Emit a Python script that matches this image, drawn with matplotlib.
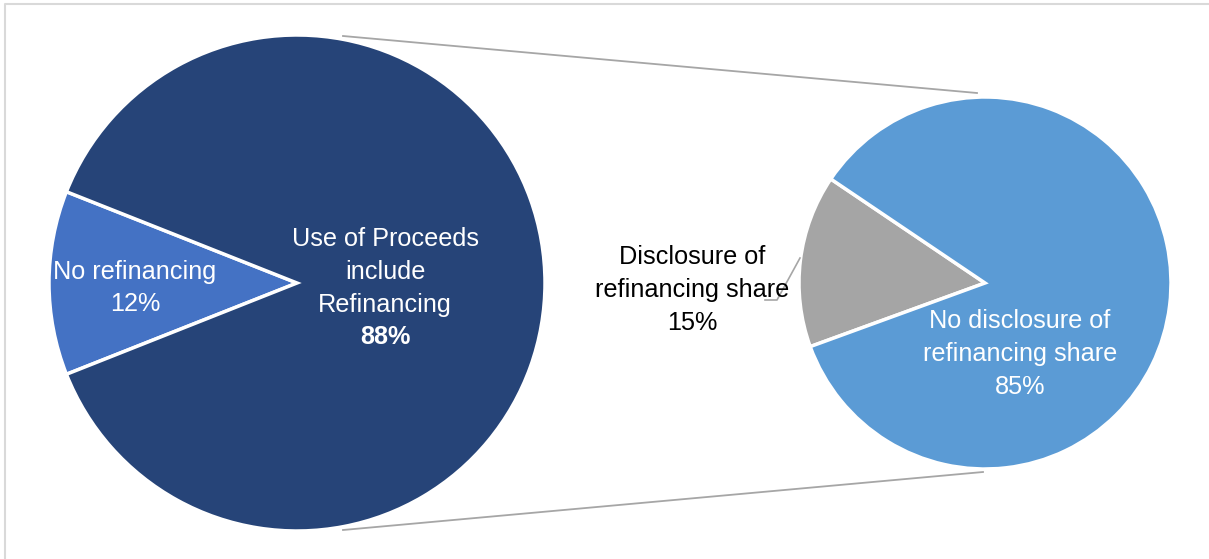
import matplotlib
matplotlib.use("Agg")
import matplotlib.pyplot as plt

# Data
main_labels = ["No refinancing", "Use of Proceeds\ninclude\nRefinancing"]
main_values = [12, 88]
sub_labels = ["Disclosure of\nrefinancing share", "No disclosure of\nrefinancing share"]
sub_values = [15, 85]

main_colors = ["#4472C4", "#264478"]
sub_colors = ["#A5A5A5", "#5B9BD5"]

W, H = 1209, 559
fig = plt.figure(figsize=(W / 100, H / 100), dpi=100)
ax = fig.add_axes([0, 0, 1, 1])


def py(y):
    return H - y


# Frame
ax.plot([5, 5, W + 5], [py(H + 5), py(4), py(4)], color="#d9d9d9", lw=1.5,
        solid_capstyle="butt")

# Connector lines between the two pies
ax.plot([343, 977], [py(36), py(93)], color="#a6a6a6", lw=1.3, zorder=1)
ax.plot([343, 983], [py(530), py(472)], color="#a6a6a6", lw=1.3, zorder=1)

main_center = (297, py(283))
main_r = 248
sub_center = (985, py(283))
sub_r = 186

half = main_values[0] / sum(main_values) * 360 / 2
ax.pie(main_values, colors=main_colors, center=main_center, radius=main_r,
       startangle=180 - half, counterclock=True,
       wedgeprops=dict(edgecolor="white", linewidth=2.5))
ax.pie(sub_values, colors=sub_colors, center=sub_center, radius=sub_r,
       startangle=146, counterclock=True,
       wedgeprops=dict(edgecolor="white", linewidth=2.5))
ax.set_xlim(0, W)
ax.set_ylim(0, H)
ax.set_aspect("equal")
ax.axis("off")

fam = ["Liberation Sans", "DejaVu Sans"]
fs = 18.2
ls = 1.45

ax.text(135, py(288), f"{main_labels[0]}\n{main_values[0]}%", ha="center", va="center",
        color="white", fontsize=fs, family=fam, linespacing=ls)

ax.text(385, py(272), main_labels[1], ha="center", va="center",
        color="white", fontsize=fs, family=fam, linespacing=ls)
ax.text(385, py(337), f"{main_values[1]}%", ha="center", va="center",
        color="white", fontsize=fs, family=fam, weight="bold")

ax.text(692, py(290), f"{sub_labels[0]}\n{sub_values[0]}%", ha="center", va="center",
        color="black", fontsize=fs, family=fam, linespacing=ls)

ax.text(1020, py(354), f"{sub_labels[1]}\n{sub_values[1]}%", ha="center", va="center",
        color="white", fontsize=fs, family=fam, linespacing=ls)

# Leader line for the grey slice label
ax.plot([765, 777, 800], [py(300), py(300), py(258)], color="#a6a6a6", lw=1.2)

fig.savefig("out.png", dpi=100, facecolor="white")
